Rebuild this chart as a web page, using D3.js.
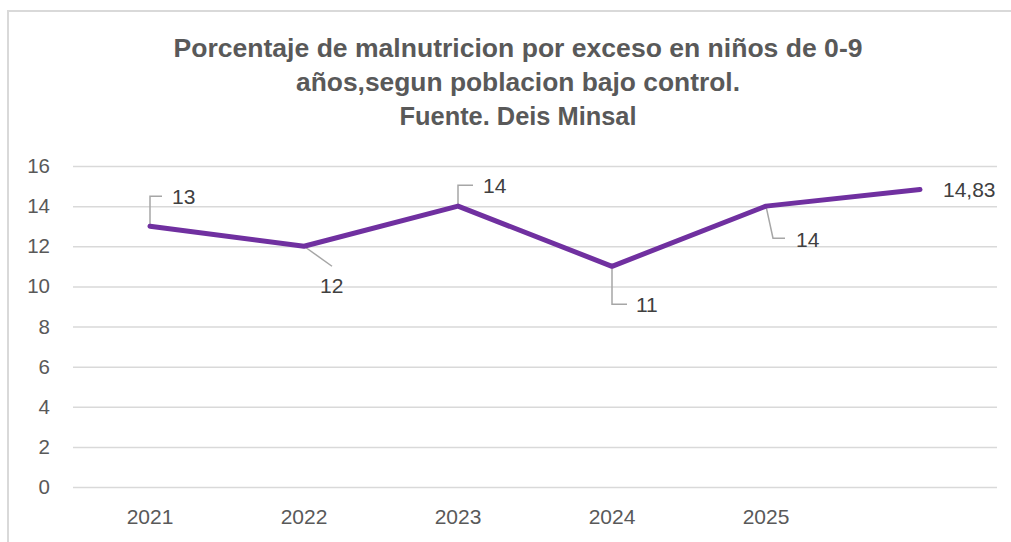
<!DOCTYPE html>
<html>
<head>
<meta charset="utf-8">
<script src="https://cdn.jsdelivr.net/npm/d3@7"></script>
<style>
  html, body { margin: 0; padding: 0; background: #fff; }
  svg { display: block; }
</style>
</head>
<body>
<svg id="chart" width="1011" height="542"></svg>
<script>
// ---- data ----
const categories = ["2021", "2022", "2023", "2024", "2025", ""];
const values = [13, 12, 14, 11, 14, 14.83];
const yTicks = [0, 2, 4, 6, 8, 10, 12, 14, 16];
const titleLines = [
  "Porcentaje de malnutricion por exceso en niños de 0-9",
  "años,segun poblacion bajo control.",
  "Fuente. Deis Minsal"
];

// ---- layout (not data) ----
const titleWidths = [689, 444, 237];
const labelLayout = [
  { dx: 22, dy: -22, leader: [[0, 0], [0, -30], [12, -30]] },
  { dx: 16, dy: 47, leader: [[0, 0], [28, 20]] },
  { dx: 25, dy: -13, leader: [[0, 0], [0, -21], [15, -21]] },
  { dx: 24, dy: 46, leader: [[0, 0], [0, 38], [15, 38]] },
  { dx: 30, dy: 41, leader: [[0, 0], [7, 32], [19, 32]] },
  { dx: 23, dy: 8, leader: null }
];

const svg = d3.select("#chart");
const W = 1011, H = 542;
const plot = { left: 73, right: 997, top: 166, bottom: 487 };

// chart border
svg.append("path")
  .attr("d", `M8,${H + 2} L8,11 L${W + 2},11`)
  .attr("fill", "none")
  .attr("stroke", "#d9d9d9")
  .attr("stroke-width", 2);

// title
const title = svg.append("g");
titleLines.forEach((t, i) => {
  title.append("text")
    .attr("x", 518)
    .attr("y", 57 + i * 34)
    .attr("text-anchor", "middle")
    .attr("font-family", "'Liberation Sans', Arial, sans-serif")
    .attr("font-weight", "bold")
    .attr("font-size", 25)
    .attr("textLength", titleWidths[i])
    .attr("lengthAdjust", "spacingAndGlyphs")
    .attr("fill", "#595959")
    .text(t);
});

// scales
const x = d3.scaleBand().domain(categories.map((c, i) => i)).range([plot.left, plot.right]).padding(0);
const y = d3.scaleLinear().domain([0, 16]).range([plot.bottom, plot.top]);
const cx = i => x(i) + x.bandwidth() / 2;

// gridlines + y labels
const yAxis = d3.axisLeft(y).tickValues(yTicks).tickSize(-(plot.right - plot.left)).tickPadding(23);
const gy = svg.append("g").attr("transform", `translate(${plot.left},0)`).call(yAxis);
gy.select(".domain").remove();
gy.selectAll(".tick line").attr("stroke", "#d9d9d9").attr("stroke-width", 1.5);
gy.selectAll(".tick text")
  .attr("font-family", "'Liberation Sans', Arial, sans-serif")
  .attr("font-size", 20.5)
  .attr("fill", "#595959");

// x axis labels
const xAxis = d3.axisBottom(x).tickFormat(i => categories[i]).tickSize(0).tickPadding(22);
const gx = svg.append("g").attr("transform", `translate(0,${plot.bottom})`).call(xAxis);
gx.select(".domain").remove();
gx.selectAll(".tick text")
  .attr("font-family", "'Liberation Sans', Arial, sans-serif")
  .attr("font-size", 21)
  .attr("fill", "#595959");

// leader lines
labelLayout.forEach((l, i) => {
  if (!l.leader) return;
  const px = cx(i), py = y(values[i]);
  svg.append("path")
    .attr("d", d3.line()(l.leader.map(p => [px + p[0], py + p[1]])))
    .attr("fill", "none")
    .attr("stroke", "#a6a6a6")
    .attr("stroke-width", 1.5);
});

// line
svg.append("path")
  .datum(values)
  .attr("d", d3.line().x((d, i) => cx(i)).y(d => y(d)))
  .attr("fill", "none")
  .attr("stroke", "#7030a0")
  .attr("stroke-width", 5)
  .attr("stroke-linecap", "round")
  .attr("stroke-linejoin", "round");

// data labels
const fmt = v => String(v).replace(".", ",");
values.forEach((v, i) => {
  const l = labelLayout[i];
  svg.append("text")
    .attr("x", cx(i) + l.dx)
    .attr("y", y(v) + l.dy)
    .attr("font-family", "'Liberation Sans', Arial, sans-serif")
    .attr("font-size", 21)
    .attr("fill", "#404040")
    .text(fmt(v));
});
</script>
</body>
</html>
